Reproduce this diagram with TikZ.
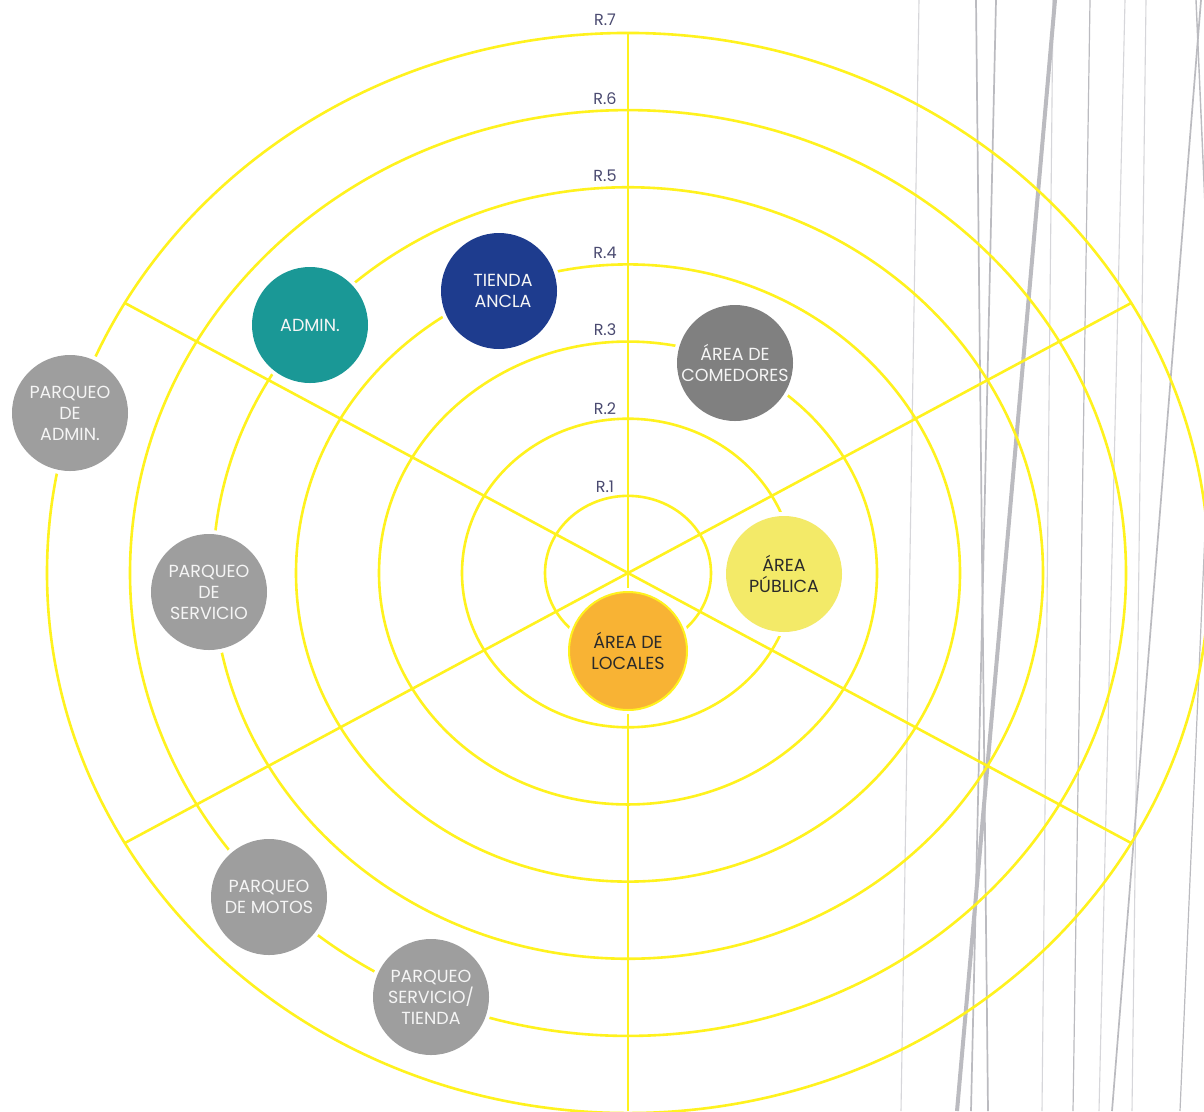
\documentclass[tikz,border=0pt]{standalone}
\usepackage{fontspec}
\setmainfont{Poppins}
\definecolor{ringc}{HTML}{FFF21E}
\definecolor{ctxgray}{HTML}{BBBBC0}
\definecolor{ctxlight}{HTML}{D6D6DA}
\definecolor{cteal}{HTML}{1A9896}
\definecolor{cblue}{HTML}{1E3C8E}
\definecolor{cdgray}{HTML}{808080}
\definecolor{cgray}{HTML}{9E9E9E}
\definecolor{cyel}{HTML}{F3EA68}
\definecolor{corange}{HTML}{F8B334}
\definecolor{rlabc}{HTML}{4A4A70}
\definecolor{dtext}{HTML}{2A2A2A}
\tikzset{
  ringline/.style={draw=ringc, line width=2.6pt},
  ctxthin/.style={draw=ctxlight, line width=1.1pt},
  ctxmid/.style={draw=ctxgray, line width=1.7pt},
  ctxthick/.style={draw=ctxgray, line width=4pt},
  rlab/.style={text=rlabc, font=\fontsize{16}{19}\selectfont, inner sep=0pt},
  zone/.style={circle, minimum size=116pt, inner sep=0pt, align=center,
    font=\fontsize{17.5}{21}\selectfont, text=white!96!black,
    preaction={draw=white, line width=8pt}},
  darkzone/.style={zone, text=dtext}
}
\begin{document}
\begin{tikzpicture}[x=1pt,y=-1pt]
\useasboundingbox (0,0) rectangle (1204,1111);
\clip (0,0) rectangle (1204,1111);
\fill[white] (0,0) rectangle (1204,1111);
% context lines (site plan)
\draw[ctxthin] (919,0) -- (901,1111);
\draw[ctxmid] (976,0) -- (988,1111);
\draw[ctxmid] (996,0) -- (971,1111);
\draw[ctxthin] (1053,0) -- (1042,1111);
\draw[ctxthick] (1055,0) -- (957,1111);
\draw[ctxmid, line width=1.2pt] (1090,0) -- (1073,1111);
\draw[ctxthin] (1125,0) -- (1099,1111);
\draw[ctxthin] (1146,0) -- (1132,1111);
\draw[ctxmid] (1201,0) -- (1112,1111);
\draw[ctxmid, line width=1.4pt] (1196,0) -- (1210,320);
\draw[ctxmid, line width=1.2pt] (1228,0) -- (1180,1111);
% rings
\coordinate (c) at (628,573);
\foreach \k in {1,...,7}
  \draw[ringline] (c) ellipse [x radius=83*\k, y radius=77.15*\k];
% spokes
\coordinate (sN) at (628,33);
\coordinate (sS) at (628,1111);
\draw[ringline] (c) -- (sN);
\draw[ringline] (c) -- (sS);
\foreach \a in {30,150,210,330}
  \draw[ringline] (c) -- ++({581*cos(\a)},{-540*sin(\a)});
% ring labels
\node[rlab] (r1) at (605,487) {R.1};
\node[rlab] (r2) at (605,409) {R.2};
\node[rlab] (r3) at (605,330) {R.3};
\node[rlab] (r4) at (605,253) {R.4};
\node[rlab] (r5) at (605,176) {R.5};
\node[rlab] (r6) at (605,99) {R.6};
\node[rlab] (r7) at (605,20) {R.7};
% zones
\node[zone, fill=cteal] (admin) at (310,325) {ADMIN.};
\node[zone, fill=cblue] (tienda) at (499,291) {\hspace*{8pt}TIENDA\\\hspace*{8pt}ANCLA};
\node[zone, fill=cdgray] (comedores) at (735,363) {ÁREA DE\\COMEDORES};
\node[darkzone, fill=cyel] (publica) at (784,574) {ÁREA\\PÚBLICA};
\node[darkzone, fill=corange, draw=ringc, line width=2pt, minimum size=118pt,
  preaction={draw=white, line width=3pt}] (locales) at (628,651) {ÁREA DE\\LOCALES};
\node[zone, fill=cgray] (padmin) at (70,413) {PARQUEO\\DE\\ADMIN.};
\node[zone, fill=cgray] (pservicio) at (209,592) {PARQUEO\\DE\\SERVICIO};
\node[zone, fill=cgray] (pmotos) at (269,897) {PARQUEO\\DE MOTOS};
\node[zone, fill=cgray] (pst) at (431,997) {PARQUEO\\SERVICIO/\\TIENDA};
\end{tikzpicture}
\end{document}
